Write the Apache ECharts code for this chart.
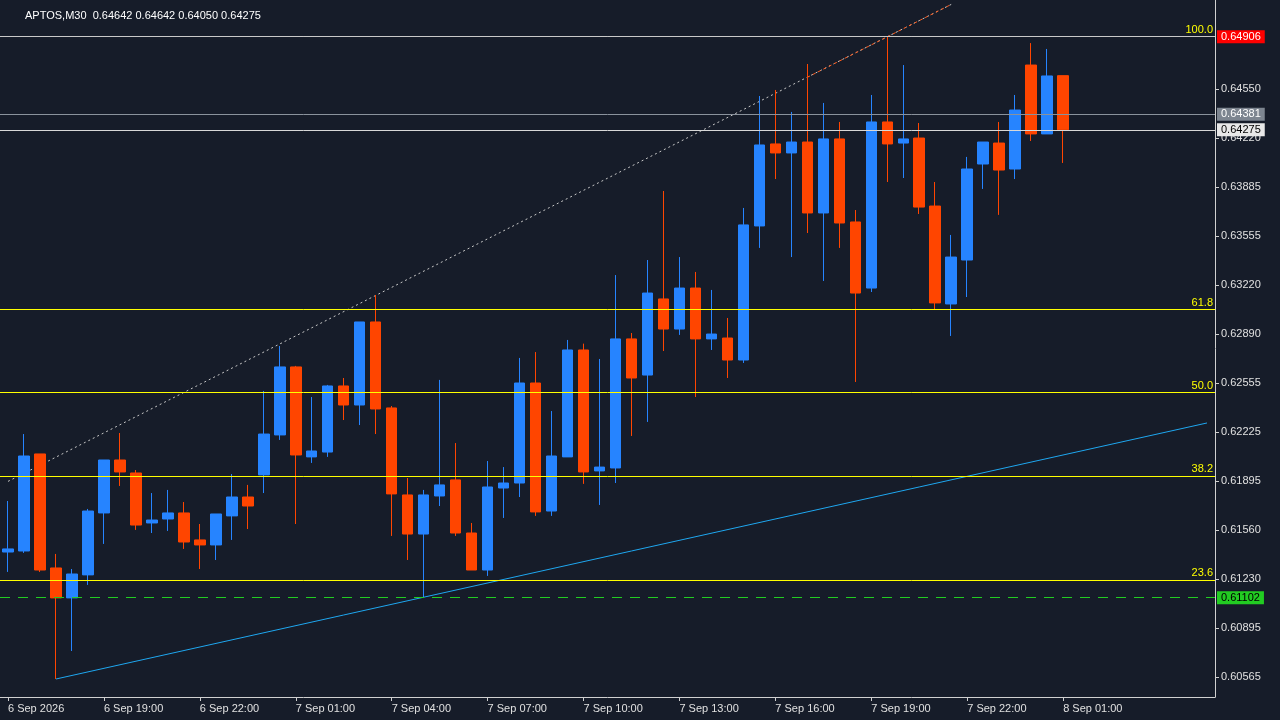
<!DOCTYPE html>
<html><head><meta charset="utf-8">
<script src="https://cdn.jsdelivr.net/npm/echarts@6/dist/echarts.min.js"></script>
<style>html,body{margin:0;background:#161c29}#c{width:1280px;height:720px}</style>
</head><body><div id="c"></div>
<script>
const opens  = [0.61412,0.61419,0.62077,0.61304,0.61101,0.61257,0.61677,0.62036,0.61948,0.61609,0.61636,0.61677,0.61494,0.61460,0.61657,0.61785,0.61935,0.62206,0.62667,0.62057,0.62090,0.62538,0.62409,0.62972,0.62389,0.61799,0.61534,0.61792,0.61901,0.61541,0.61290,0.61846,0.61880,0.62558,0.61690,0.62057,0.62782,0.61962,0.61982,0.62857,0.62612,0.63128,0.62924,0.63202,0.62857,0.62863,0.62714,0.63623,0.64179,0.64118,0.64192,0.63711,0.64213,0.63650,0.63202,0.64328,0.64185,0.64219,0.63758,0.63094,0.63392,0.64043,0.64185,0.64009,0.64714,0.64247,0.64642];
const closes = [0.61433,0.62063,0.61290,0.61101,0.61263,0.61690,0.62036,0.61955,0.61595,0.61629,0.61677,0.61480,0.61460,0.61670,0.61785,0.61724,0.62212,0.62667,0.62070,0.62097,0.62538,0.62409,0.62972,0.62382,0.61806,0.61534,0.61799,0.61867,0.61541,0.61290,0.61853,0.61880,0.62558,0.61684,0.62063,0.62782,0.61955,0.61988,0.62857,0.62592,0.63168,0.62924,0.63202,0.62857,0.62890,0.62714,0.63630,0.64172,0.64118,0.64192,0.63711,0.64213,0.63643,0.63168,0.64328,0.64179,0.64213,0.63751,0.63101,0.63412,0.64009,0.64192,0.64002,0.64409,0.64247,0.64640,0.64275];
const lows   = [0.61277,0.61406,0.61277,0.60551,0.60741,0.61189,0.61467,0.61860,0.61562,0.61541,0.61555,0.61433,0.61297,0.61358,0.61494,0.61568,0.61812,0.62172,0.61602,0.62016,0.62057,0.62307,0.62273,0.62212,0.61521,0.61358,0.61101,0.61724,0.61521,0.61290,0.61250,0.61643,0.61785,0.61657,0.61657,0.62057,0.61874,0.61731,0.61880,0.62199,0.62294,0.62775,0.62884,0.62463,0.62782,0.62592,0.62694,0.63474,0.63941,0.63412,0.63575,0.63250,0.63474,0.62565,0.63175,0.63921,0.63948,0.63704,0.63053,0.62877,0.63141,0.63874,0.63698,0.63941,0.64199,0.64247,0.64050];
const highs  = [0.61758,0.62212,0.62077,0.61399,0.61297,0.61704,0.62036,0.62219,0.61968,0.61812,0.61833,0.61751,0.61602,0.61670,0.61941,0.61867,0.62504,0.62809,0.62674,0.62463,0.62545,0.62592,0.62972,0.63155,0.62402,0.61914,0.61833,0.62579,0.62151,0.61609,0.62029,0.61988,0.62728,0.62768,0.62368,0.62850,0.62825,0.62721,0.63290,0.62897,0.63392,0.63860,0.63412,0.63311,0.63189,0.62999,0.63745,0.64504,0.64545,0.64396,0.64721,0.64457,0.64328,0.63731,0.64511,0.64904,0.64714,0.64321,0.63921,0.63562,0.64091,0.64192,0.64328,0.64511,0.64863,0.64823,0.64642];
const timeLabels = ["6 Sep 2026","6 Sep 19:00","6 Sep 22:00","7 Sep 01:00","7 Sep 04:00","7 Sep 07:00","7 Sep 10:00","7 Sep 13:00","7 Sep 16:00","7 Sep 19:00","7 Sep 22:00","8 Sep 01:00"];
const priceTicks = [0.60565,0.60895,0.61230,0.61560,0.61895,0.62225,0.62555,0.62890,0.63220,0.63555,0.63885,0.64220,0.64550];
const fibNames = ["100.0","61.8","50.0","38.2","23.6"];
const fibValues = [0.64906,0.63060,0.62497,0.61928,0.61223];
const tagValues = [0.64906,0.64381,0.64275,0.61102];
const blueTrend = [[3,0.60551],[75,0.62287]];
const dotTrend = [[0,0.61891],[59,0.65125]];
const orangeTrend = [[50,0.64631],[59,0.65125]];
const totalSlots = 76;

const cats = [];
for (let i=0;i<totalSlots;i++) cats.push(String(i));
const ohlc = opens.map((o,i)=>[o,closes[i],lows[i],highs[i]]);
const labelAt = {};
timeLabels.forEach((t,k)=>labelAt[String(k*6)]=t);

const fibLines = fibNames.map((n,k)=>({yAxis:fibValues[k],lineStyle:{color:n==="100.0"?"#c8c8c8":"#ffff00",width:1,type:'solid'},
  label:{show:true,position:'insideEndTop',formatter:n,color:'#ffff00',fontSize:11,distance:[2,1],padding:0}}));
const tagStyle = [["#ff0000","#ffffff","#c8c8c8",'solid'],["#7d8590","#ffffff","#8a929c",'solid'],["#e8e8e8","#000000","#d8d8d8",'solid'],["#22cc22","#000000","#22cc22",[10,8]]];
const tagLines = tagValues.map((v,k)=>({yAxis:v,lineStyle:{color:tagStyle[k][2],width:1,type:tagStyle[k][3]},
  label:{show:true,position:'end',formatter:v.toFixed(5),color:tagStyle[k][1],backgroundColor:tagStyle[k][0],fontSize:11,padding:[1,4],distance:2}}));

const chart = echarts.init(document.getElementById('c'));
chart.setOption({
  backgroundColor:'#161c29',
  animation:false,
  title:{text:'APTOS,M30  0.64642 0.64642 0.64050 0.64275',left:20,top:5,textStyle:{color:'#ffffff',fontSize:11,fontWeight:'normal',fontFamily:'Liberation Sans'}},
  grid:{left:-1,right:65,top:0,bottom:23},
  xAxis:{type:'category',data:cats,boundaryGap:true,
    axisLine:{lineStyle:{color:'#d0d0d0'}},
    axisTick:{show:true,interval:(i)=>labelAt[String(i)]!==undefined,alignWithLabel:true,length:4,lineStyle:{color:'#d0d0d0'}},
    axisLabel:{interval:(i)=>labelAt[String(i)]!==undefined,formatter:(v)=>labelAt[v]||'',color:'#e0e0e0',fontSize:11,align:'left',margin:6,fontFamily:'Liberation Sans'},
    splitLine:{show:false}},
  yAxis:{type:'value',position:'right',min:0.60429,max:0.65155,scale:true,
    axisLine:{show:true,lineStyle:{color:'#d0d0d0'}},
    axisTick:{show:true,customValues:priceTicks,length:4,lineStyle:{color:'#d0d0d0'}},
    axisLabel:{customValues:priceTicks,formatter:(v)=>v.toFixed(5),color:'#e0e0e0',fontSize:11,margin:6,fontFamily:'Liberation Sans'},
    splitLine:{show:false}},
  series:[
    {type:'line',data:[],symbol:'none',silent:true,
      markLine:{symbol:'none',silent:true,animation:false,precision:5,data:[...fibLines,...tagLines]}},
    {type:'candlestick',data:ohlc,barWidth:11,z:3,
      itemStyle:{color:'#2684ff',color0:'#ff4500',borderColor:'#2684ff',borderColor0:'#ff4500',borderWidth:1}},
    {type:'line',data:blueTrend,symbol:'none',lineStyle:{color:'#1ea7f0',width:1},z:1},
    {type:'line',data:dotTrend,symbol:'none',lineStyle:{color:'#c8c8c8',width:1,type:[2,3]},z:1},
    {type:'line',data:orangeTrend,symbol:'none',lineStyle:{color:'#ff5a1a',width:1,type:[3,3]},z:1}
  ]
});
</script></body></html>
